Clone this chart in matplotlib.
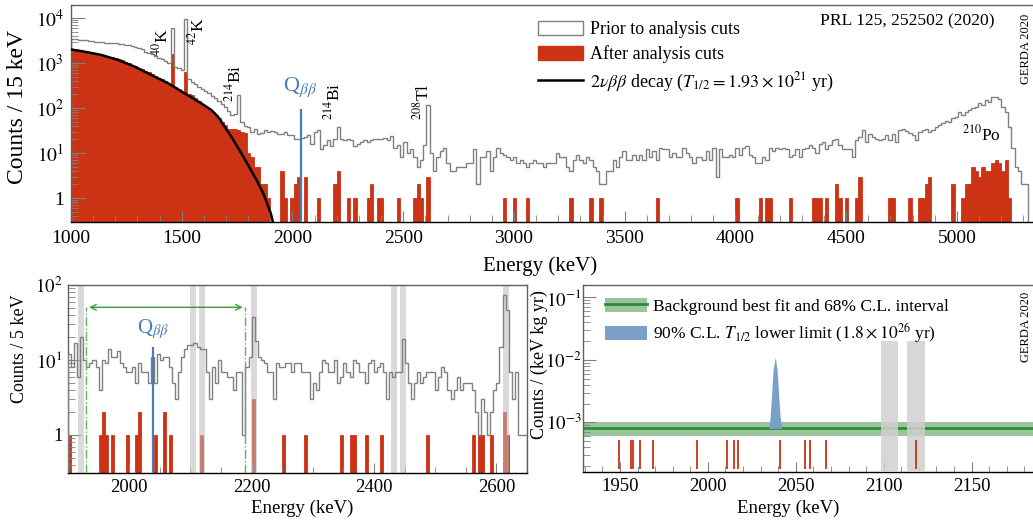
import numpy as np
import matplotlib
matplotlib.use('Agg')
import matplotlib.pyplot as plt
from matplotlib.patches import Patch
from matplotlib.lines import Line2D
from matplotlib.ticker import FuncFormatter, LogLocator, MultipleLocator, NullFormatter

plt.rcParams['font.family'] = ['Liberation Serif', 'DejaVu Serif']
plt.rcParams['mathtext.fontset'] = 'stix'

# ---- top panel: full spectrum, 15 keV bins from 1000 keV
top_start = 1000
top_bin = 15
prior_counts = [
    3400, 3350, 3300, 3250, 3200, 3150, 3050, 3000, 2950, 2880,
    2850, 2800, 2780, 2750, 2700, 2650, 2550, 2500, 2400, 2250,
    2130, 2000, 1800, 1650, 1550, 1400, 1280, 1200, 1080, 980,
    5900, 820, 760, 700, 9350,
    430, 385, 340, 300, 270, 240, 215, 185, 165, 145, 125, 105, 85, 70,
    75, 195, 50,
    40, 38, 30, 34, 27, 28, 32, 30, 31, 29, 27, 27, 29, 25, 25, 21, 21, 22, 23, 25,
    16, 30, 33, 12, 15, 19, 14, 20, 38, 21, 19, 20, 19, 14, 16, 18, 19, 18, 19, 20,
    21, 20, 22, 19,
    24, 13, 15, 8, 18, 10, 12, 8, 5, 7, 15, 116, 10, 4, 8, 11, 13, 6, 4, 4,
    5, 5, 5, 6, 6, 12, 2, 8, 8, 11, 4, 8, 13, 10, 9, 8, 7, 8, 6, 7,
    6, 5, 6, 7, 6, 6, 5, 6, 6, 6,
    10, 8, 8, 5, 4, 7, 9, 7, 6, 8, 7, 5, 4, 2, 2, 4, 4, 7, 5, 8,
    11, 7, 7, 9, 7, 9, 7, 12, 8, 11, 7, 13, 12, 12, 8, 10, 8, 8, 13, 10,
    8, 6, 8, 8, 7, 11, 7, 13, 3,
    12, 8, 8, 9, 8, 13, 9, 13, 14, 9, 8, 6, 6, 8, 7, 13, 11, 13, 12, 13,
    12, 8, 9, 12, 8, 12, 13, 15, 13, 10, 16, 18, 12, 15, 19, 21, 15, 12, 12, 12,
    8, 19, 23, 32, 18, 27, 23, 21, 19,
    21, 25, 19, 26, 18, 32, 35, 31, 28, 25, 19, 30, 32, 35, 30, 32, 38, 42, 47, 52,
    50, 59, 64, 83, 70, 83, 90, 98, 107, 127, 116, 150, 138, 173, 173, 156, 107, 83, 38, 13,
    5, 4, 2, 2,
]
after_low = [
    1950, 1900, 1850, 1800, 1740, 1680, 1620, 1560, 1500, 1450,
    1400, 1350, 1380, 1300, 1200, 1150, 1050, 980, 920, 850,
    780, 730, 680, 620, 580, 520, 470, 430, 390, 350,
    1600, 290, 260, 230, 640,
    210, 190, 165, 145, 125, 107, 95, 80, 70, 60, 50, 42, 35, 35, 35,
    33, 30, 28, 10, 8, 5, 5, 2, 2, 1,
]
after_tail_bins = [63, 64, 66, 67, 68, 70, 74, 79, 80, 83, 85, 89, 90, 92, 93, 98,
                   103, 104, 105, 107, 130, 133, 137, 150, 156, 159, 176, 200, 207,
                   209, 210, 216, 223, 224, 225, 227, 230, 231, 233, 236, 237, 246,
                   247, 252, 255, 256, 257, 258, 265, 268, 269, 270, 271, 272, 273,
                   274, 275, 276, 277, 278, 279, 280, 281, 282]
after_tail_counts = [4, 1, 1, 2, 3, 3, 1, 2, 4, 1, 1, 1, 2, 1, 1, 1,
                     1, 2, 1, 3, 1, 1, 1, 1, 1, 1, 1, 1, 1,
                     1, 1, 1, 1, 1, 1, 1, 2, 1, 1, 1, 3, 1,
                     1, 1, 1, 1, 2, 3, 2, 1, 2, 2, 5, 4, 3,
                     5, 4, 4, 6, 7, 6, 4, 7, 1]
curve_e = [1000, 1062, 1137, 1212, 1287, 1363, 1438, 1513, 1588, 1634, 1664,
           1724, 1778, 1838, 1868, 1902, 1915]
curve_v = [2000, 1780, 1510, 1170, 830, 540, 355, 212, 127, 90, 64,
           23, 8.3, 2.5, 1.27, 0.46, 0.25]
q_bb = 2039

# ---- bottom left: 5 keV bins from 1900 keV
zoom_start = 1900
zoom_bin = 5
zoom_prior = [
    12, 8, 17, 6, 20, 10, 8, 9, 10, 8, 4, 10, 9, 14, 11, 11, 13, 9, 8, 7,
    7, 8, 5, 9, 7, 7, 5, 11, 5, 12, 10, 11, 11, 8, 5, 3, 7, 11, 14, 16,
    16, 17, 15, 14, 14, 7, 3, 8, 5, 10, 7, 7, 6, 6, 4, 7, 7, 1, 8, 11,
    38, 18, 11, 10, 9, 7, 7, 3, 9, 8, 8, 9, 9, 7, 9, 9, 7, 7, 7, 3,
    5, 4, 7, 10, 9, 7, 7, 10, 5, 6, 9, 7, 6, 10, 9, 7, 7, 5, 9, 10,
    7, 8, 9, 7, 3, 7, 6, 7, 7, 19, 9, 5, 3, 5, 7, 5, 6, 7, 7, 7,
    4, 6, 8, 7, 4, 3, 4, 6, 4, 5, 5, 5, 4, 2, 1, 3, 2, 1, 2, 4,
    5, 15, 74, 46, 7, 3, 7, 1, 1, 1,
]
zoom_after_bins = [0, 10, 11, 12, 14, 19, 22, 23, 28, 31, 33, 43, 60, 70, 77, 89,
                   92, 93, 97, 102, 117, 132, 134, 135, 138, 142, 143]
zoom_after_counts = [1, 1, 2, 1, 1, 1, 1, 2, 1, 2, 1, 1, 3, 1, 1, 1,
                     1, 1, 1, 1, 1, 1, 1, 1, 1, 2, 1]
gamma_lines = [1921, 2104, 2119, 2204, 2432, 2448, 2615]
window = [1930, 2190]

# ---- bottom right: events and fit in the analysis window
events = [1949.6, 1956.3, 1957.6, 1961.5, 1968.9, 1994.1, 2011.0, 2014.9,
          2017.2, 2041.1, 2055.3, 2058.1, 2067.0, 2118.2]
bkg_level = 8.0e-4
bkg_lo, bkg_hi = 6.0e-4, 1.02e-3
peak_e = [2034.8, 2035.4, 2036.2, 2037.1, 2038.3, 2039.4, 2040.3, 2041.1, 2041.9]
peak_v = [8.5e-4, 1.23e-3, 2.6e-3, 6.9e-3, 1.1e-2, 6.9e-3, 2.6e-3, 1.23e-3, 8.5e-4]
excluded = [2103.4, 2118.2]

RED = '#cc3314'
GREY = '#808080'
BLUE = '#4a7db8'
GREEN = '#2e8b3a'

W, H = 1033, 521
fig = plt.figure(figsize=(W / 100, H / 100), dpi=100)


def add_ax(l, t, r, b):
    return fig.add_axes([l / W, 1 - b / H, (r - l) / W, (b - t) / H])


def log_label(v, pos):
    e = int(round(np.log10(v)))
    return '1' if e == 0 else r'$10^{%d}$' % e


def style(ax, size):
    ax.set_yscale('log')
    ax.yaxis.set_major_locator(LogLocator(base=10, numticks=20))
    ax.yaxis.set_minor_locator(LogLocator(base=10, subs=np.arange(2, 10), numticks=100))
    ax.yaxis.set_major_formatter(FuncFormatter(log_label))
    ax.yaxis.set_minor_formatter(NullFormatter())
    ax.tick_params(which='both', direction='in', colors=GREY, labelcolor='k',
                   labelsize=size, top=False, right=False)
    for s in ax.spines.values():
        s.set_color('#606060')
        s.set_linewidth(1.0)
    ax.spines['bottom'].set_color('k')


def center_label(label):
    label.set_verticalalignment('center')
    label.set_horizontalalignment('center')


# top panel
ax = add_ax(71, 5, 1040, 222)
style(ax, 14)
edges = top_start + top_bin * np.arange(len(prior_counts) + 1)
after = np.zeros(len(prior_counts))
after[:len(after_low)] = after_low
after[after_tail_bins] = after_tail_counts
nz = after > 0
ax.bar(edges[:-1][nz], after[nz], width=top_bin, align='edge', color=RED,
       edgecolor=RED, lw=0.6, zorder=1)
ax.stairs(prior_counts, edges, color=GREY, lw=1, zorder=2)
ax.plot(curve_e, curve_v, color='k', lw=1.8, zorder=3)
ax.set_xlim(1000, 5375)
ax.set_ylim(0.293, 19450)
ax.vlines(q_bb, 0.293, 93, color=BLUE, lw=1.6, zorder=4)
ax.text(2034, 294, r'Q$_{\beta\beta}$', color=BLUE, fontsize=16, ha='center', va='center')
ax.xaxis.set_major_locator(MultipleLocator(500))
ax.xaxis.set_minor_locator(MultipleLocator(100))
ax.tick_params(axis='x', which='major', length=8, pad=6)
ax.tick_params(axis='x', which='minor', length=5)
ax.tick_params(axis='y', which='major', length=10, pad=5)
ax.tick_params(axis='y', which='minor', length=5)
for txt, e, v, rot in [(r'$^{40}$K', 1410, 2850, 90), (r'$^{42}$K', 1571, 5200, 90),
                       (r'$^{214}$Bi', 1736, 354, 90), (r'$^{214}$Bi', 2183, 144, 90),
                       (r'$^{208}$Tl', 2587, 138, 90), (r'$^{210}$Po', 5111, 26.5, 0)]:
    ax.text(e, v, txt, fontsize=12.5, rotation=rot, ha='center', va='center')
ax.set_xlabel('Energy (keV)', fontsize=15)
ax.set_ylabel('Counts / 15 keV', fontsize=17)
ax.xaxis.set_label_coords(540 / W, 1 - 266 / H, transform=fig.transFigure)
ax.yaxis.set_label_coords(18 / W, 1 - 107 / H, transform=fig.transFigure)
center_label(ax.xaxis.label)
center_label(ax.yaxis.label)
handles = [Patch(facecolor='white', edgecolor=GREY, lw=1),
           Patch(facecolor=RED, edgecolor=RED),
           Line2D([], [], color='k', lw=1.8)]
labels = ['Prior to analysis cuts', 'After analysis cuts',
          r'$2\nu\beta\beta$ decay ($T_{1/2} = 1.93\times10^{21}$ yr)']
ax.legend(handles, labels, loc='upper left', bbox_to_anchor=(538 / W, 1 - 21 / H),
          bbox_transform=fig.transFigure, frameon=False, fontsize=13,
          handlelength=2.5, handleheight=0.8, labelspacing=0.4, borderpad=0,
          borderaxespad=0, handletextpad=0.4)
fig.text(995 / W, 1 - 21 / H, 'PRL 125, 252502 (2020)', fontsize=12.6, ha='right', va='center')
fig.text(1026 / W, 1 - 49 / H, 'GERDA 2020', fontsize=9, rotation=90, ha='center', va='center')

# bottom left panel
ax = add_ax(68, 285, 527, 473)
style(ax, 13.5)
zedges = zoom_start + zoom_bin * np.arange(len(zoom_prior) + 1)
ax.bar(zedges[zoom_after_bins], zoom_after_counts, width=zoom_bin, align='edge',
       color=RED, edgecolor=RED, lw=0.6, zorder=1)
for c in gamma_lines:
    ax.axvspan(c - 5, c + 5, color='#bdbdbd', alpha=0.55, lw=0, zorder=2)
ax.stairs(zoom_prior, zedges, color=GREY, lw=1, zorder=3)
ax.set_xlim(1900, 2650)
ax.set_ylim(0.311, 100)
ax.vlines(q_bb, 0.311, 15, color=BLUE, lw=1.6, zorder=4)
ax.text(2039, 25.9, r'Q$_{\beta\beta}$', color=BLUE, fontsize=15, ha='center', va='center')
ax.vlines(window, 0.311, 50.4, color='#5fb35f', lw=1, linestyles='-.', zorder=4)
ax.annotate('', xy=(window[0], 50.4), xytext=(window[1], 50.4),
            arrowprops=dict(arrowstyle='<->', color='#3c9a3c', lw=1), zorder=4)
ax.xaxis.set_major_locator(MultipleLocator(200))
ax.xaxis.set_minor_locator(MultipleLocator(50))
ax.tick_params(axis='x', which='major', length=7, pad=4)
ax.tick_params(axis='x', which='minor', length=4)
ax.tick_params(axis='y', which='major', length=9, pad=4)
ax.tick_params(axis='y', which='minor', length=5)
ax.set_xlabel('Energy (keV)', fontsize=13.5)
ax.set_ylabel('Counts / 5 keV', fontsize=13)
ax.xaxis.set_label_coords(302 / W, 1 - 508 / H, transform=fig.transFigure)
ax.yaxis.set_label_coords(20 / W, 1 - 349 / H, transform=fig.transFigure)
center_label(ax.xaxis.label)
center_label(ax.yaxis.label)

# bottom right panel
ax = add_ax(583, 285, 1042, 472)
style(ax, 13.5)
ylo, yhi = 1.6e-4, 0.158
ax.set_xlim(1929, 2190)
ax.set_ylim(ylo, yhi)
ax.axhspan(bkg_lo, bkg_hi, color='#9cc49a', lw=0, zorder=1)
ax.axhline(bkg_level, color=GREEN, lw=2, zorder=2)
ax.fill_between(peak_e, bkg_level, peak_v, color='#7aa0c8', lw=0, zorder=3)
ax.bar(excluded, 0.020 - ylo, bottom=ylo, width=10, color='#d0d0d0', alpha=0.85,
       lw=0, zorder=4)
ax.vlines(events, 1.79e-4, 5.2e-4, color=RED, lw=1.3, zorder=5)
ax.xaxis.set_major_locator(MultipleLocator(50))
ax.xaxis.set_minor_locator(MultipleLocator(10))
ax.tick_params(axis='x', which='major', length=7, pad=4)
ax.tick_params(axis='x', which='minor', length=4)
ax.tick_params(axis='y', which='major', length=9, pad=1)
ax.tick_params(axis='y', which='minor', length=5)
ax.set_xlabel('Energy (keV)', fontsize=13.5)
ax.set_ylabel('Counts / (keV kg yr)', fontsize=13)
ax.xaxis.set_label_coords(788 / W, 1 - 508 / H, transform=fig.transFigure)
ax.yaxis.set_label_coords(539 / W, 1 - 365 / H, transform=fig.transFigure)
center_label(ax.xaxis.label)
center_label(ax.yaxis.label)
handles = [(Patch(facecolor='#9cc49a', lw=0), Line2D([], [], color=GREEN, lw=2)),
           Patch(facecolor='#7aa0c8', lw=0)]
labels = ['Background best fit and 68% C.L. interval',
          r'90% C.L. $T_{1/2}$ lower limit ($1.8\times10^{26}$ yr)']
ax.legend(handles, labels, loc='upper left', bbox_to_anchor=(605 / W, 1 - 298 / H),
          bbox_transform=fig.transFigure, frameon=False, fontsize=12.5,
          handlelength=2.4, handleheight=0.85, labelspacing=0.35, borderpad=0,
          borderaxespad=0, handletextpad=0.35)
fig.text(1026 / W, 1 - 327 / H, 'GERDA 2020', fontsize=9, rotation=90, ha='center', va='center')

fig.savefig('out.png', dpi=100)
